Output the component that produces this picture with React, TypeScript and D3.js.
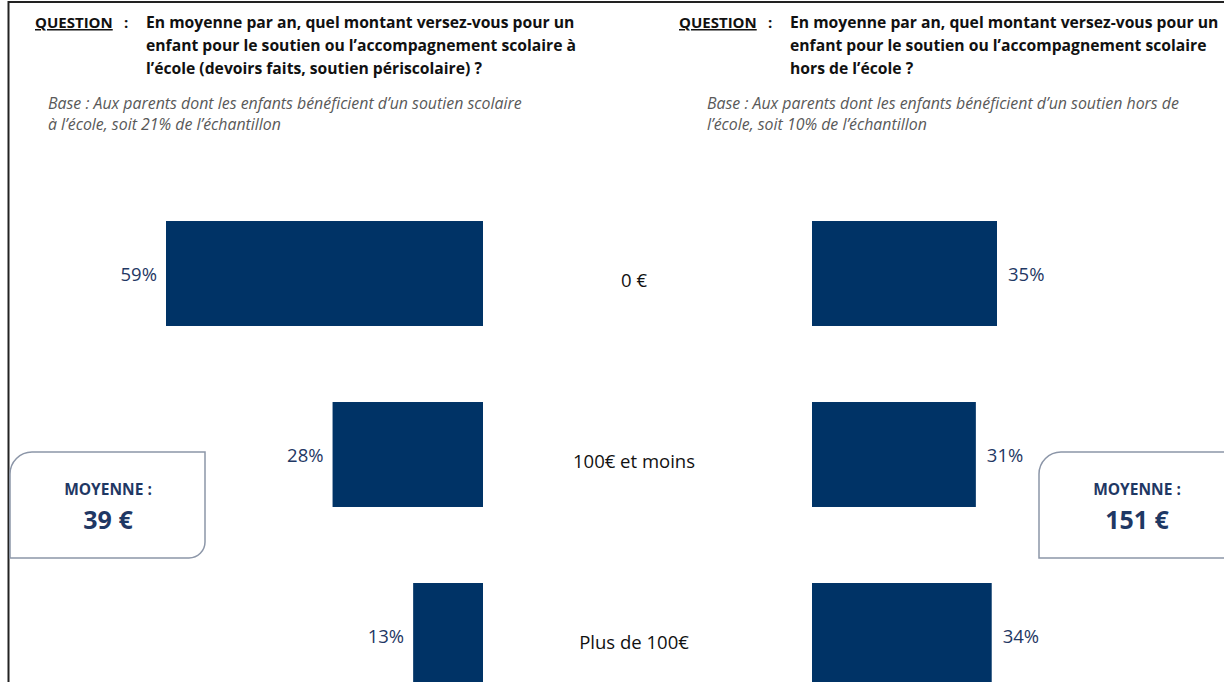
import * as d3 from "d3";

const categories = ["0 €", "100€ et moins", "Plus de 100€"];
const schoolValues = [59, 28, 13];
const outsideValues = [35, 31, 34];
const schoolMean = "39 €";
const outsideMean = "151 €";

const questionLeft = [
  "En moyenne par an, quel montant versez-vous pour un",
  "enfant pour le soutien ou l’accompagnement scolaire à",
  "l’école (devoirs faits, soutien périscolaire) ?",
];
const questionRight = [
  "En moyenne par an, quel montant versez-vous pour un",
  "enfant pour le soutien ou l’accompagnement scolaire",
  "hors de l’école ?",
];
const baseLeft = [
  "Base : Aux parents dont les enfants bénéficient d’un soutien scolaire",
  "à l’école, soit 21% de l’échantillon",
];
const baseRight = [
  "Base : Aux parents dont les enfants bénéficient d’un soutien hors de",
  "l’école, soit 10% de l’échantillon",
];

const W = 1224;
const H = 682;
const FONT = "'Open Sans', Lato, sans-serif";
const BAR = "#003366";
const NAVY = "#1f3864";

function Question({
  x,
  baseX,
  lines,
  base,
}: {
  x: number;
  baseX: number;
  lines: string[];
  base: string[];
}) {
  return (
    <g fontFamily={FONT}>
      <text x={x} y={28} fontSize={15} fontWeight="bold" fill="#111" textDecoration="underline">
        QUESTION
      </text>
      <text x={x + 89} y={28} fontSize={15} fontWeight="bold" fill="#111">
        :
      </text>
      {lines.map((l, i) => (
        <text key={i} x={x + 111} y={28 + i * 23} fontSize={15.7} fontWeight="bold" fill="#111">
          {l}
        </text>
      ))}
      {base.map((l, i) => (
        <text key={i} x={baseX} y={109 + i * 21} fontSize={15.9} fontStyle="italic" fill="#595959">
          {l}
        </text>
      ))}
    </g>
  );
}

function MeanBox({ x, w, value }: { x: number; w: number; value: string }) {
  const y = 452;
  const h = 106;
  const r1 = 22;
  const r2 = 16;
  const path = d3.path();
  path.moveTo(x, y + r1);
  path.arcTo(x, y, x + r1, y, r1);
  path.lineTo(x + w, y);
  path.lineTo(x + w, y + h - r2);
  path.arcTo(x + w, y + h, x + w - r2, y + h, r2);
  path.lineTo(x, y + h);
  path.closePath();
  const cx = x + 98;
  return (
    <g>
      <path d={path.toString()} fill="#fff" stroke="#8c96a8" strokeWidth={1.5} />
      <text x={cx} y={495} textAnchor="middle" fontFamily={FONT} fontSize={15.5} fontWeight="bold" fill={NAVY}>
        MOYENNE :
      </text>
      <text x={cx} y={529} textAnchor="middle" fontFamily={FONT} fontSize={25} fontWeight="bold" fill={NAVY}>
        {value}
      </text>
    </g>
  );
}

export default function App() {
  const y = d3
    .scaleBand<string>()
    .domain(categories)
    .range([183, 726])
    .paddingInner(0.42)
    .paddingOuter(0.21);

  const leftEnd = 483;
  const rightStart = 812;
  const xLeft = d3.scaleLinear().domain([0, 59]).range([0, 317]);
  const xRight = d3.scaleLinear().domain([0, 35]).range([0, 185]);

  return (
    <div style={{ position: "absolute", left: 0, top: 0 }}>
      <svg width={W} height={H} style={{ display: "block" }}>
        <rect width={W} height={H} fill="#fff" />
        <line x1={8.5} y1={1} x2={8.5} y2={H} stroke="#222" strokeWidth={2} />
        <line x1={8} y1={2} x2={W} y2={2} stroke="#222" strokeWidth={2} />

        <Question x={35} baseX={48} lines={questionLeft} base={baseLeft} />
        <Question x={679} baseX={707} lines={questionRight} base={baseRight} />

        {categories.map((c, i) => {
          const by = y(c)!;
          const bh = y.bandwidth();
          const cy = by + bh / 2;
          const lw = xLeft(schoolValues[i]);
          const rw = xRight(outsideValues[i]);
          return (
            <g key={c} fontFamily={FONT}>
              <rect x={leftEnd - lw} y={by} width={lw} height={bh} fill={BAR} />
              <rect x={rightStart} y={by} width={rw} height={bh} fill={BAR} />
              <text x={leftEnd - lw - 9} y={cy + 1} dy="0.35em" textAnchor="end" fontSize={18.5} fill={NAVY}>
                {schoolValues[i]}%
              </text>
              <text x={rightStart + rw + 11} y={cy + 1} dy="0.35em" fontSize={18.5} fill={NAVY}>
                {outsideValues[i]}%
              </text>
              <text x={634} y={cy + 7} dy="0.35em" textAnchor="middle" fontSize={18.5} fill="#111">
                {c}
              </text>
            </g>
          );
        })}

        <MeanBox x={10} w={195} value={schoolMean} />
        <MeanBox x={1039} w={240} value={outsideMean} />
      </svg>
    </div>
  );
}
